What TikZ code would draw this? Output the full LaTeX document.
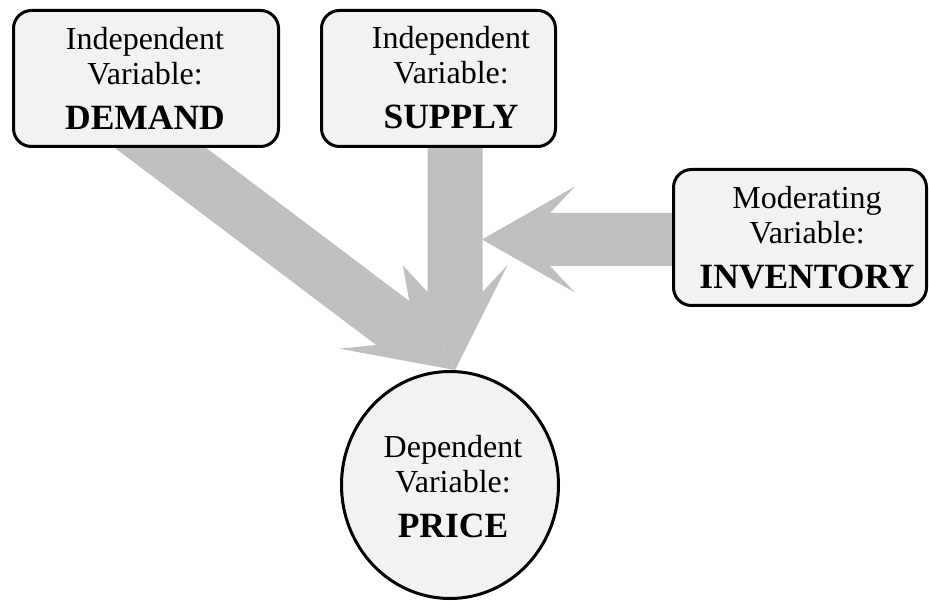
\documentclass[tikz,border=0pt]{standalone}
\usepackage{fontspec}
\setmainfont{Liberation Serif}
\usetikzlibrary{calc,shapes.geometric}
\definecolor{arrowgray}{RGB}{191,191,191}
\definecolor{boxfill}{RGB}{242,242,242}
% #1 start, #2 tip, #3 shaft half width, #4 barb half width, #5 barb depth, #6 notch depth
\newcommand\fatarr[6]{%
  \fill[arrowgray]
    ($(#1)!#3!90:(#2)$) --
    ($(#2)!#6!(#1)!#3!-90:(#1)$) --
    ($(#2)!#5!(#1)!#4!-90:(#1)$) --
    (#2) --
    ($(#2)!#5!(#1)!#4!90:(#1)$) --
    ($(#2)!#6!(#1)!#3!90:(#1)$) --
    ($(#1)!#3!-90:(#2)$) -- cycle;}
\newcommand\bigword[1]{{\fontsize{35.5}{42}\selectfont\bfseries #1}}
\begin{document}
\begin{tikzpicture}[x=1pt,y=-1pt,
  varbox/.style={draw=black, line width=3pt, rounded corners=18pt, fill=boxfill,
    minimum height=136pt, inner sep=0pt},
  depcircle/.style={ellipse, draw=black, line width=3pt, fill=boxfill,
    minimum width=217pt, minimum height=227pt, inner sep=0pt},
  lbl/.style={align=center, inner sep=0pt, font=\fontsize{32}{35}\selectfont}]
\useasboundingbox (0,0) rectangle (929,601);

% arrow end points
\coordinate (dstart) at (123.5,120);
\coordinate (dtip) at (455,370);
\coordinate (sstart) at (455,130);
\coordinate (stip) at (455,370);
\coordinate (istart) at (700,239.5);
\coordinate (itip) at (482,239.5);

% connectors (fat arrows)
\fatarr{dstart}{dtip}{27.5pt}{52.5pt}{105pt}{78pt}
\fatarr{sstart}{stip}{27.5pt}{52.5pt}{105pt}{78pt}
\fatarr{istart}{itip}{26.5pt}{53pt}{93pt}{68pt}

% boxes
\node[varbox, minimum width=265pt] (demand) at (146,78.5) {};
\node[varbox, minimum width=234pt] (supply) at (438.5,78.5) {};
\node[varbox, minimum width=253pt] (inventory) at (800,237.5) {};
\node[depcircle] (price) at (450,485) {};

% texts
\node[lbl] (demandtxt) at (145,78)
  {Independent\\Variable:\\[10pt]\bigword{DEMAND}};
\node[lbl] (supplytxt) at (451,78)
  {Independent\\Variable:\\[10pt]\bigword{SUPPLY}};
\node[lbl] (inventorytxt) at (807,237.5)
  {Moderating\\Variable:\\[10pt]\bigword{INVENTORY}};
\node[lbl] (pricetxt) at (453,487)
  {Dependent\\Variable:\\[10pt]\bigword{PRICE}};
\end{tikzpicture}
\end{document}
